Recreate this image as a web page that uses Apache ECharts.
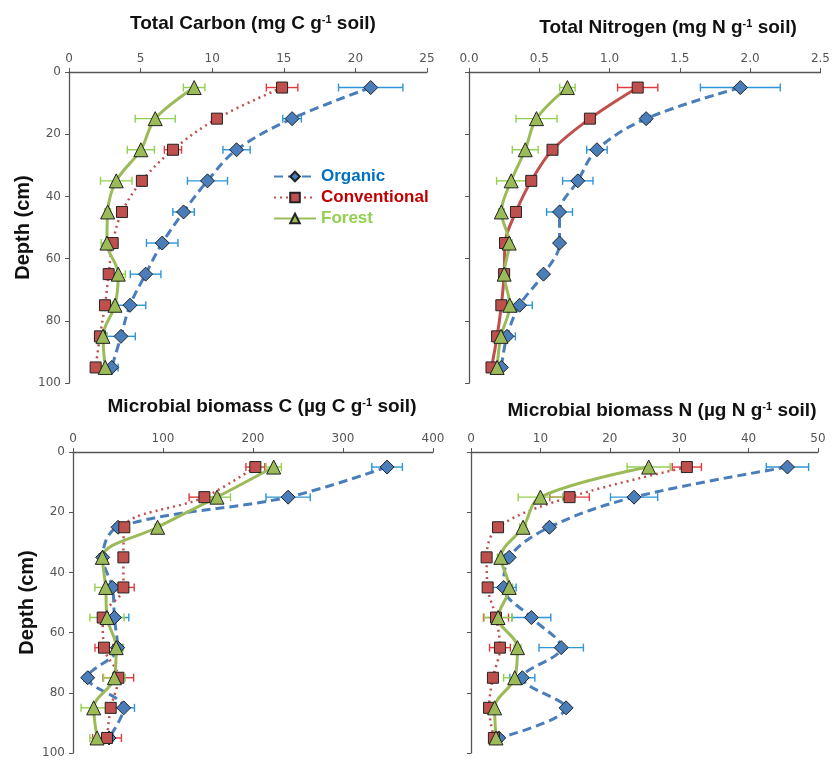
<!DOCTYPE html>
<html>
<head>
<meta charset="utf-8">
<script src="https://cdn.jsdelivr.net/npm/echarts@6/dist/echarts.min.js"></script>
<style>
  html, body { margin: 0; padding: 0; background: #fff; }
  #chart { width: 833px; height: 760px; }
</style>
</head>
<body>
<div id="chart"></div>
<script>
// sampling depths (cm)
const depths = [5, 15, 25, 35, 45, 55, 65, 75, 85, 95];

// Total carbon (mg C g-1 soil)
const tcOrganic = [21.07, 15.58, 11.7, 9.67, 8.0, 6.51, 5.35, 4.26, 3.63, 2.98];
const tcOrganicErr = [2.25, 0.65, 0.95, 1.4, 0.75, 1.1, 1.07, 1.1, 1.0, 0.45];
const tcConv = [14.88, 10.33, 7.26, 5.09, 3.7, 3.05, 2.77, 2.51, 2.16, 1.86];
const tcConvErr = [1.1, 0.2, 0.6, 0.2, 0.2, 0.2, 0.25, 0.2, 0.2, 0.2];
const tcForest = [8.74, 6.02, 5.02, 3.3, 2.7, 2.65, 3.44, 3.21, 2.37, 2.53];
const tcForestErr = [0.75, 1.4, 0.95, 1.1, 0.2, 0.4, 0.5, 0.2, 0.3, 0.3];

// Total nitrogen (mg N g-1 soil)
const tnOrganic = [1.93, 1.26, 0.91, 0.774, 0.644, 0.644, 0.53, 0.36, 0.27, 0.23];
const tnOrganicErr = [0.284, 0.03, 0.073, 0.108, 0.092, 0.02, 0.02, 0.09, 0.06, 0.02];
const tnConv = [1.2, 0.86, 0.594, 0.443, 0.334, 0.256, 0.25, 0.23, 0.2, 0.16];
const tnConvErr = [0.143, 0.02, 0.03, 0.02, 0.02, 0.02, 0.02, 0.02, 0.02, 0.02];
const tnForest = [0.70, 0.48, 0.40, 0.30, 0.23, 0.286, 0.25, 0.29, 0.227, 0.2];
const tnForestErr = [0.055, 0.146, 0.092, 0.104, 0.02, 0.02, 0.02, 0.02, 0.02, 0.02];

// Microbial biomass C (ug C g-1 soil)
const mbcOrganic = [349, 239, 50, 33, 43.7, 46, 49.6, 16.3, 56.3, 40];
const mbcOrganicErr = [17, 24.6, 3, 4, 5, 16, 5, 4, 12, 5];
const mbcConv = [202.6, 146, 57, 56, 56, 33, 34.4, 50.4, 41.9, 37.8];
const mbcConvErr = [10.5, 17, 3, 5, 12, 4, 10, 17, 4, 16];
const mbcForest = [223, 160, 94, 32.6, 36.3, 37.8, 48, 46, 23, 26.7];
const mbcForestErr = [8.5, 15, 3, 4, 12, 19, 8, 12, 14, 8];

// Microbial biomass N (ug N g-1 soil)
const mbnOrganic = [45.6, 23.5, 11.3, 5.5, 4.7, 8.7, 13.0, 7.4, 13.7, 4.0];
const mbnOrganicErr = [3.05, 3.4, 0.5, 0.5, 1.8, 2.8, 3.2, 1.8, 0.5, 0.5];
const mbnConv = [31.1, 14.2, 3.9, 2.25, 2.4, 3.6, 4.17, 3.16, 2.6, 3.3];
const mbnConvErr = [2.1, 2.85, 0.3, 0.3, 0.5, 1.8, 1.5, 0.5, 0.3, 0.3];
const mbnForest = [25.6, 10.0, 7.5, 4.3, 5.5, 3.9, 6.7, 6.3, 3.4, 3.6];
const mbnForestErr = [3.1, 3.2, 0.5, 0.5, 0.5, 2.0, 0.5, 1.6, 0.3, 0.3];

const blue = '#4A7EBB', red = '#C0504D', green = '#9BBB59';
const blueErr = '#2E95D6', redErr = '#E23A3A', greenErr = '#92D050';

const chart = echarts.init(document.getElementById('chart'));

function pts(vals) {
  return vals.map((v, i) => [v, depths[i]]);
}
function errPts(vals, errs) {
  return vals.map((v, i) => [v - errs[i], v + errs[i], depths[i]]);
}

function errSeries(idx, vals, errs, color) {
  return {
    type: 'custom',
    xAxisIndex: idx,
    yAxisIndex: idx,
    z: 1,
    silent: true,
    encode: { x: [0, 1], y: 2 },
    data: errPts(vals, errs),
    renderItem: function (params, api) {
      const a = api.coord([api.value(0), api.value(2)]);
      const b = api.coord([api.value(1), api.value(2)]);
      const st = { stroke: color, lineWidth: 1.4 };
      return {
        type: 'group',
        children: [
          { type: 'line', shape: { x1: a[0], y1: a[1], x2: b[0], y2: b[1] }, style: st },
          { type: 'line', shape: { x1: a[0], y1: a[1] - 4, x2: a[0], y2: a[1] + 4 }, style: st },
          { type: 'line', shape: { x1: b[0], y1: b[1] - 4, x2: b[0], y2: b[1] + 4 }, style: st }
        ]
      };
    }
  };
}

function lineSeries(idx, name, vals, color, lineType, symbol, size, width) {
  return {
    name: name,
    type: 'line',
    xAxisIndex: idx,
    yAxisIndex: idx,
    z: 3,
    data: pts(vals),
    smooth: 0.35,
    symbol: symbol,
    symbolSize: size,
    lineStyle: { color: color, width: width, type: lineType },
    itemStyle: { color: color, borderColor: '#222', borderWidth: 1 }
  };
}

function panel(idx, org, orgErr, conv, convErr, forest, forestErr, convType) {
  return [
    errSeries(idx, org, orgErr, blueErr),
    errSeries(idx, conv, convErr, redErr),
    errSeries(idx, forest, forestErr, greenErr),
    lineSeries(idx, 'Organic', org, blue, [9, 5], 'diamond', 14, 3),
    lineSeries(idx, 'Conventional', conv, red, convType, 'rect', 11, convType === 'solid' ? 3 : 2.5),
    lineSeries(idx, 'Forest', forest, green, 'solid', 'triangle', 14, 3)
  ];
}

const grids = [
  { left: 69, top: 72, width: 358, height: 311 },
  { left: 469, top: 72, width: 352, height: 311 },
  { left: 73, top: 452, width: 360, height: 301 },
  { left: 471, top: 452, width: 347, height: 301 }
];
const xRanges = [
  { max: 25, interval: 5 },
  { max: 2.5, interval: 0.5, fmt: v => v.toFixed(1) },
  { max: 400, interval: 100 },
  { max: 50, interval: 10 }
];

const axisLine = { show: true, lineStyle: { color: '#555', width: 1.3 } };

const titleStyle = {
  fontFamily: 'Liberation Sans, Arial, sans-serif',
  fontWeight: 'bold',
  fontSize: 19,
  color: '#111',
  rich: {
    sup: { fontSize: 11, fontWeight: 'bold', color: '#111', padding: [0, 0, 9, 0] }
  }
};

const option = {
  animation: false,
  backgroundColor: '#fff',
  title: [
    { text: 'Total Carbon (mg C g{sup|-1} soil)', left: 248, top: 9, textAlign: 'center', textStyle: titleStyle },
    { text: 'Total Nitrogen (mg N g{sup|-1} soil)', left: 663, top: 13, textAlign: 'center', textStyle: titleStyle },
    { text: 'Microbial biomass C (\u00b5g C g{sup|-1} soil)', left: 257, top: 392, textAlign: 'center', textStyle: titleStyle },
    { text: 'Microbial biomass N (\u00b5g N g{sup|-1} soil)', left: 657, top: 396, textAlign: 'center', textStyle: titleStyle }
  ],
  legend: {
    left: 268,
    top: 163,
    orient: 'vertical',
    itemWidth: 42,
    itemHeight: 12,
    itemGap: 4,
    textStyle: { fontFamily: 'Liberation Sans, Arial, sans-serif', fontWeight: 'bold', fontSize: 17 },
    data: [
      { name: 'Organic', textStyle: { color: '#0070C0' } },
      { name: 'Conventional', textStyle: { color: '#C00000' } },
      { name: 'Forest', textStyle: { color: '#92D050' } }
    ]
  },
  grid: grids,
  xAxis: xRanges.map((r, i) => ({
    type: 'value',
    gridIndex: i,
    position: 'top',
    min: 0,
    max: r.max,
    interval: r.interval,
    axisLine: axisLine,
    axisTick: { show: true, inside: false, length: 4, lineStyle: { color: '#555' } },
    axisLabel: {
      color: '#555', fontSize: 12, margin: 7,
      fontFamily: 'DejaVu Sans, sans-serif',
      formatter: r.fmt || (v => String(v))
    },
    splitLine: { show: false }
  })),
  yAxis: [0, 1, 2, 3].map(i => ({
    type: 'value',
    gridIndex: i,
    inverse: true,
    min: 0,
    max: 100,
    interval: 20,
    name: i % 2 === 0 ? 'Depth (cm)' : '',
    nameLocation: 'middle',
    nameGap: 36,
    nameTextStyle: { fontFamily: 'Liberation Sans, Arial, sans-serif', fontWeight: 'bold', fontSize: 20, color: '#111' },
    axisLine: axisLine,
    axisTick: { show: true, inside: false, length: 4, lineStyle: { color: '#555' } },
    axisLabel: { show: i % 2 === 0, color: '#555', fontSize: 12, margin: 8, fontFamily: 'DejaVu Sans, sans-serif' },
    splitLine: { show: false }
  })),
  series: [].concat(
    panel(0, tcOrganic, tcOrganicErr, tcConv, tcConvErr, tcForest, tcForestErr, [2, 4]),
    panel(1, tnOrganic, tnOrganicErr, tnConv, tnConvErr, tnForest, tnForestErr, 'solid'),
    panel(2, mbcOrganic, mbcOrganicErr, mbcConv, mbcConvErr, mbcForest, mbcForestErr, [2, 4]),
    panel(3, mbnOrganic, mbnOrganicErr, mbnConv, mbnConvErr, mbnForest, mbnForestErr, [2, 4])
  )
};

chart.setOption(option);
</script>
</body>
</html>
